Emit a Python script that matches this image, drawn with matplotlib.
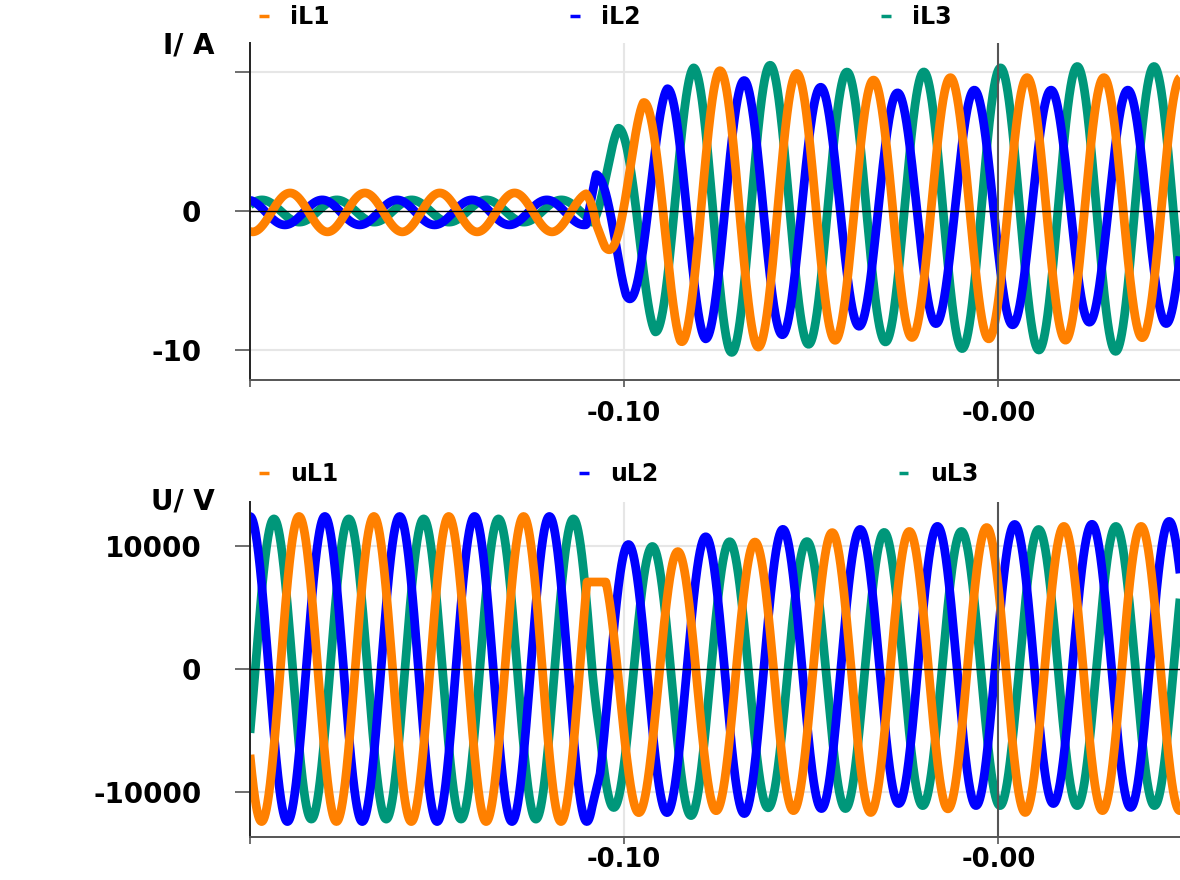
import numpy as np
import matplotlib
matplotlib.use("Agg")
import matplotlib.pyplot as plt
from matplotlib.ticker import FixedLocator, FixedFormatter

# ---------------- data ----------------
T_START, T_END = -0.2, 0.0485
F_PRE = 50.0          # Hz before the fault
F_POST_I = 48.76      # Hz after the fault (currents)
F_POST_U = 48.44      # Hz after the fault (voltages)
FAULT_I = [-0.1102, -0.1075]   # transition window, currents
FAULT_U = [-0.1086, -0.1065]   # transition window, voltages

# pre-fault waves: amplitude, offset, time of a crest
iL1_pre = [1.4, -0.1, -0.1893]
iL2_pre = [0.9, -0.1, -0.1807]
iL3_pre = [0.8, 0.0, -0.1968]

# post-fault waves: time of a crest, crest envelope, trough envelope
iL1_ref = -0.0949
iL1_up_t = [-0.1097, -0.0949, -0.0748, -0.0539, -0.0324, -0.0126, 0.0078, 0.0279]
iL1_up = [0.0, 7.8, 10.1, 9.9, 9.4, 9.6, 9.6, 9.6]
iL1_lo_t = [-0.1097, -0.1051, -0.0850, -0.0646, -0.0434, -0.0231, -0.0024, 0.0190, 0.0400]
iL1_lo = [0.0, -2.6, -9.4, -9.8, -9.3, -9.1, -9.2, -9.3, -9.1]

iL2_ref = -0.0885
iL2_up_t = [-0.1097, -0.0885, -0.0676, -0.0472, -0.0271, -0.0064, 0.0142, 0.0346]
iL2_up = [2.2, 8.8, 9.4, 8.9, 8.5, 8.7, 8.7, 8.7]
iL2_lo_t = [-0.1097, -0.0995, -0.0783, -0.0574, -0.0378, -0.0177, 0.0029, 0.0236, 0.0450]
iL2_lo = [-1.0, -6.2, -9.2, -8.9, -8.3, -8.1, -8.2, -8.0, -8.1]

iL3_ref = -0.0815
iL3_up_t = [-0.1097, -0.1016, -0.0815, -0.0614, -0.0405, -0.0204, 0.0003, 0.0212, 0.0413]
iL3_up = [0.5, 6.0, 10.3, 10.5, 10.0, 10.0, 10.3, 10.4, 10.4]
iL3_lo_t = [-0.1118, -0.0917, -0.0721, -0.0515, -0.0311, -0.0099, 0.0102, 0.0306]
iL3_lo = [-0.4, -8.7, -10.2, -9.6, -9.4, -9.9, -10.0, -10.1]

uL1_pre = [12450, 0, -0.1869]
uL2_pre = [12450, 0, -0.2000]
uL3_pre = [12250, 0, -0.1936]

uL1_ref = -0.1064
uL1_up_t = [-0.1064, -0.0855, -0.0641, -0.0440, -0.0231, -0.0024, 0.0177, 0.0383]
uL1_up = [8000, 9600, 10400, 11150, 11230, 11560, 11640, 11640]
uL1_lo_t = [-0.1169, -0.0954, -0.0748, -0.0542, -0.0332, -0.0126, 0.0078, 0.0276]
uL1_lo = [-12400, -11700, -11560, -11560, -11720, -11400, -11720, -11560]
uL1_cap = [-0.1110, -0.1020, 7100]   # flat crest during the fault

uL2_ref = -0.0989
uL2_up_t = [-0.0989, -0.0780, -0.0579, -0.0373, -0.0166, 0.0035, 0.0239, 0.0450]
uL2_up = [10160, 10800, 11400, 11390, 11640, 11800, 11800, 12050]
uL2_lo_t = [-0.1102, -0.0890, -0.0676, -0.0472, -0.0265, -0.0064, 0.0145, 0.0351]
uL2_lo = [-12380, -11720, -11800, -11390, -10980, -11150, -10980, -11300]

uL3_ref = -0.0925
uL3_up_t = [-0.0925, -0.0713, -0.0512, -0.0306, -0.0099, 0.0110, 0.0316]
uL3_up = [10000, 10400, 10400, 11150, 11230, 11390, 11640]
uL3_lo_t = [-0.1029, -0.0820, -0.0606, -0.0408, -0.0204, 0.0003, 0.0209, 0.0413]
uL3_lo = [-11300, -11970, -11300, -11390, -11150, -11150, -11150, -11150]

names_i = ["iL1", "iL2", "iL3"]
names_u = ["uL1", "uL2", "uL3"]
colors = ["#ff8000", "#0000ff", "#00977a"]

i_ticks = [-10, 0, 10]
i_ticklabels = ["-10", "0", ""]
u_ticks = [-10000, 0, 10000]
u_ticklabels = ["-10000", "0", "10000"]
x_ticks = [-0.2, -0.1, 0.0]
x_ticklabels = ["", "-0.10", "-0.00"]

# ---------------- build the waveforms ----------------
t = np.linspace(T_START, T_END, 6000)


def wave(pre, f_post, ref, up_t, up, lo_t, lo, window, cap=None):
    a, off, tp = pre
    s_pre = a * np.cos(2 * np.pi * F_PRE * (t - tp)) + off
    U = np.interp(t, up_t, up)
    L = np.interp(t, lo_t, lo)
    s_post = (U + L) / 2 + (U - L) / 2 * np.cos(2 * np.pi * f_post * (t - ref))
    w = np.clip((t - window[0]) / (window[1] - window[0]), 0, 1)
    s = (1 - w) * s_pre + w * s_post
    if cap is not None:
        m = (t >= cap[0]) & (t <= cap[1])
        s[m] = np.minimum(s[m], cap[2])
    return s


I = [wave(iL1_pre, F_POST_I, iL1_ref, iL1_up_t, iL1_up, iL1_lo_t, iL1_lo, FAULT_I),
     wave(iL2_pre, F_POST_I, iL2_ref, iL2_up_t, iL2_up, iL2_lo_t, iL2_lo, FAULT_I),
     wave(iL3_pre, F_POST_I, iL3_ref, iL3_up_t, iL3_up, iL3_lo_t, iL3_lo, FAULT_I)]
U = [wave(uL1_pre, F_POST_U, uL1_ref, uL1_up_t, uL1_up, uL1_lo_t, uL1_lo, FAULT_U, uL1_cap),
     wave(uL2_pre, F_POST_U, uL2_ref, uL2_up_t, uL2_up, uL2_lo_t, uL2_lo, FAULT_U),
     wave(uL3_pre, F_POST_U, uL3_ref, uL3_up_t, uL3_up, uL3_lo_t, uL3_lo, FAULT_U)]

# ---------------- figure ----------------
W, H = 1180, 880
fig = plt.figure(figsize=(W / 100, H / 100), dpi=100)
FONT = dict(family="DejaVu Sans", weight="heavy")

ax1 = fig.add_axes([250 / W, 1 - 380 / H, 930 / W, 337 / H])
ax2 = fig.add_axes([250 / W, 1 - 837 / H, 930 / W, 335 / H])


def style(ax, ylim, yt, ytl, glines, series, names, unit, unit_y, leg_y, xpad):
    ax.set_xlim(T_START, T_END)
    ax.set_ylim(*ylim)
    for sp in ["top", "right"]:
        ax.spines[sp].set_visible(False)
    ax.spines["left"].set_color("#222222")
    ax.spines["left"].set_linewidth(1.4)
    ax.spines["bottom"].set_color("#555555")
    ax.spines["bottom"].set_linewidth(1.4)
    ax.xaxis.set_major_locator(FixedLocator(x_ticks))
    ax.xaxis.set_major_formatter(FixedFormatter(x_ticklabels))
    ax.yaxis.set_major_locator(FixedLocator(yt))
    ax.yaxis.set_major_formatter(FixedFormatter(ytl))
    ax.tick_params(axis="y", length=11, width=1.2, color="#555555", pad=24,
                   labelsize=20)
    ax.tick_params(axis="x", length=5, width=1.2, color="#555555", pad=xpad,
                   labelsize=18.5)
    for lab in ax.get_xticklabels() + ax.get_yticklabels():
        lab.set_fontweight("heavy")
    # light grid
    for g in glines:
        ax.axhline(g, color="#e6e6e6", lw=1.5, zorder=0)
    ax.axvline(-0.1, color="#e6e6e6", lw=1.5, zorder=0)
    # order: green, blue, orange on top
    handles = [None] * 3
    for k in [2, 1, 0]:
        (ln,) = ax.plot(t, series[k], color=colors[k], lw=6.3,
                        solid_capstyle="butt", zorder=2, label=names[k])
        handles[k] = ln
    ax.axhline(0, color="black", lw=1.0, zorder=5)
    ax.axvline(0, color="#555555", lw=1.5, zorder=5)
    leg = ax.legend(handles=handles, labels=names, ncol=3, frameon=False,
                    loc="center left", bbox_to_anchor=(0.0, leg_y),
                    handlelength=0.4, handletextpad=0.9,
                    columnspacing=10.2, borderaxespad=0,
                    prop=dict(family="DejaVu Sans", weight="heavy", size=17))
    for h in leg.legend_handles:
        h.set_linewidth(2.5)
    fig.text(215 / W, 1 - unit_y / H, unit, ha="right", va="center",
             fontsize=20, **FONT)


style(ax1, (-12.16, 12.09), i_ticks, i_ticklabels, [-10, 10], I, names_i,
      "I/ A", 45, (380 - 17) / 337, 10)
style(ax2, (-13710, 13630), u_ticks, u_ticklabels, [-10000, 10000], U, names_u,
      "U/ V", 501, (837 - 474) / 335, 2)

fig.savefig("out.png", dpi=100)
